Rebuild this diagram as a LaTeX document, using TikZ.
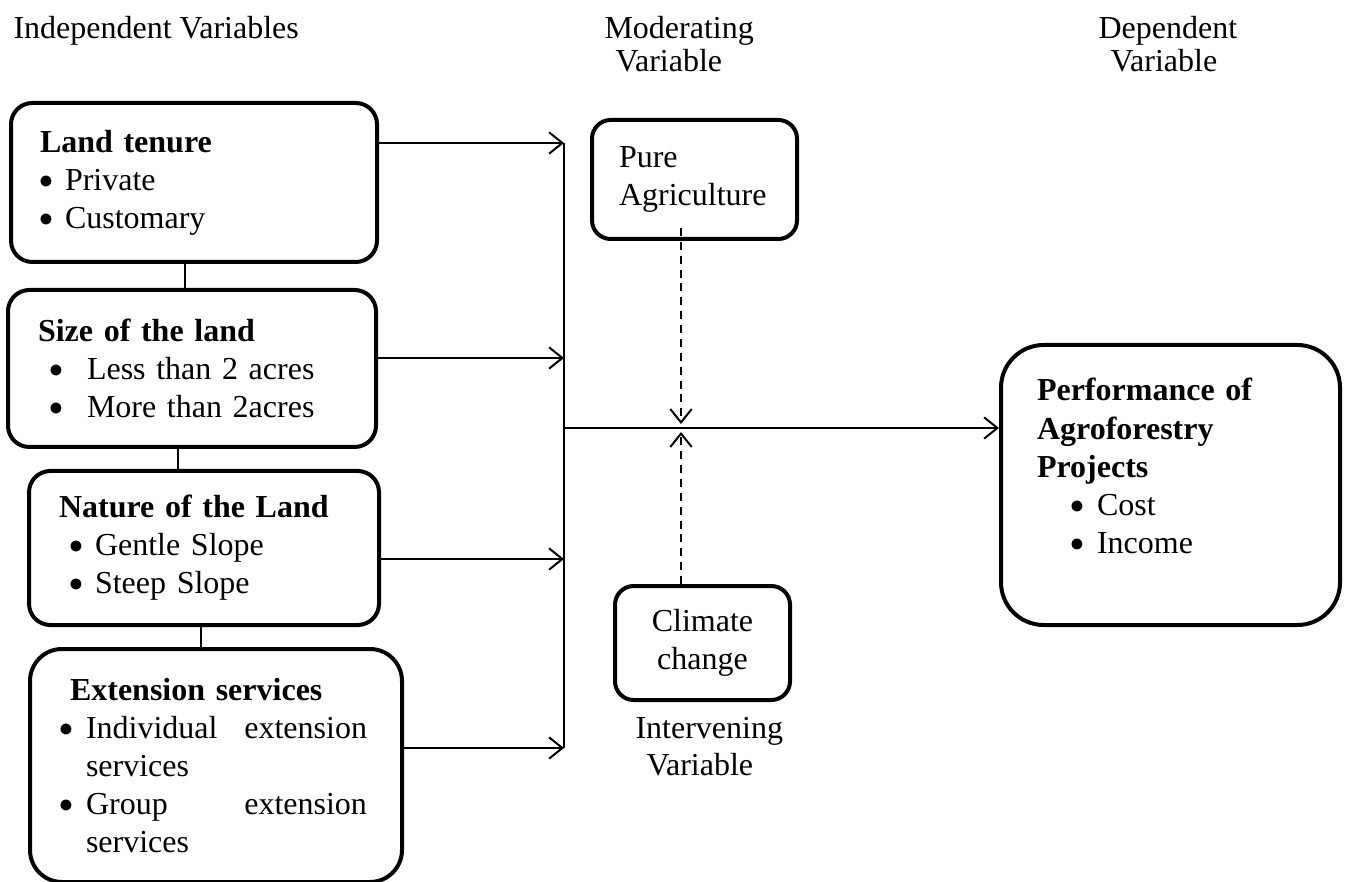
\documentclass[tikz,border=0pt]{standalone}
\usepackage{fontspec}
\setmainfont{Liberation Serif}
\usetikzlibrary{arrows.meta}
\newdimen\unitpx
\unitpx=0.375pt
\newcommand{\ind}[1]{\hspace*{#1\unitpx}}
\newcommand{\bul}[1]{\makebox[#1\unitpx][l]{\smash{\raisebox{-2.2pt}{\fontsize{17}{17}\selectfont\textbullet}}}}

\begin{document}
\begin{tikzpicture}[x=0.375pt,y=-0.375pt,>={Straight Barb[length=5pt,width=8pt]},
  font=\fontsize{12}{14.3}\selectfont,
  varbox/.style={draw,line width=1.5pt,rounded corners=8pt,anchor=north west,
    align=left,inner xsep=0pt,inner ysep=0pt},
  head/.style={anchor=north west,align=left,inner sep=0pt},
  link/.style={line width=0.75pt},
  modarrow/.style={line width=0.75pt,dash pattern=on 3pt off 2.2pt,->}]
\useasboundingbox (0,0) rectangle (1346,882);
\node[head,font=\fontsize{12}{12.4}\selectfont] (indep) at (13,16) {Independent Variables};
\node[head,font=\fontsize{12}{12.4}\selectfont] (moder) at (604,16) {Moderating\\\ind{11}Variable};
\node[head,font=\fontsize{12}{12.4}\selectfont] (dep) at (1098,16) {Dependent\\\ind{12}Variable};
\node[head,font=\fontsize{12}{13.9}\selectfont] (interv) at (635,717) {Intervening\\\ind{11}Variable};
\node[varbox,text width=366\unitpx,minimum height=159\unitpx] (tenure) at (9,101)
  {\ind{29}\textbf{Land tenure}\\\ind{27}\bul{27}Private\\\ind{27}\bul{27}Customary};
\node[varbox,text width=368\unitpx,minimum height=157\unitpx] (size) at (6,288)
  {\ind{30}\textbf{Size of the land}\\\ind{40}\bul{39}Less than 2 acres\\\ind{40}\bul{39}More than 2acres};
\node[varbox,text width=350\unitpx,minimum height=154\unitpx] (nature) at (27,469)
  {\ind{30}\textbf{Nature of the Land}\\\ind{39}\bul{27}Gentle Slope\\\ind{39}\bul{27}Steep Slope};
\node[varbox,rounded corners=12pt,text width=372\unitpx,minimum height=233\unitpx] (extension) at (28,647)
  {\ind{40}\textbf{Extension services}\\\ind{29}\bul{27}\makebox[281\unitpx][l]{Individual\hfill extension}\\
   \ind{56}services\\\ind{29}\bul{27}\makebox[281\unitpx][l]{Group\hfill extension}\\\ind{56}services};
\node[varbox,rounded corners=7pt,text width=205\unitpx,minimum height=119\unitpx] (pure) at (590,118)
  {\ind{27}Pure\\\ind{27}Agriculture};
\node[varbox,rounded corners=7pt,align=center,text width=175\unitpx,minimum height=114\unitpx] (climate) at (613,584)
  {Climate\\change};
\node[varbox,rounded corners=16pt,text width=339\unitpx,minimum height=280\unitpx] (perf) at (999,343)
  {\ind{36}\textbf{Performance of}\\\ind{36}\textbf{Agroforestry}\\\ind{36}\textbf{Projects}\\
   \ind{68}\bul{28}Cost\\\ind{68}\bul{28}Income\\~};
\coordinate (in1) at (564,143);
\coordinate (in2) at (564,358);
\coordinate (in3) at (564,559);
\coordinate (in4) at (564,748);
\coordinate (joint) at (564,428);
\coordinate (mtop) at (681,424);
\coordinate (mbot) at (681,432);
\draw[link] ([xshift=-9\unitpx]tenure.south) -- ([xshift=-7\unitpx]size.north);
\draw[link] ([xshift=-14\unitpx]size.south) -- ([xshift=-26\unitpx]nature.north);
\draw[link] ([xshift=-3\unitpx]nature.south) -- ([xshift=-15\unitpx]extension.north);
\draw[link,->] (tenure.east |- in1) -- (in1);
\draw[link,->] (size.east |- in2) -- (in2);
\draw[link,->] (nature.east |- in3) -- (in3);
\draw[link,->] (extension.east |- in4) -- (in4);
\draw[link] (in1) -- (in4);
\draw[link,->] (joint) -- (joint -| perf.west);
\draw[modarrow] (mtop |- pure.south) ++(0,-13) -- (mtop);
\draw[modarrow] (mbot |- climate.north) -- (mbot);
\end{tikzpicture}
\end{document}
